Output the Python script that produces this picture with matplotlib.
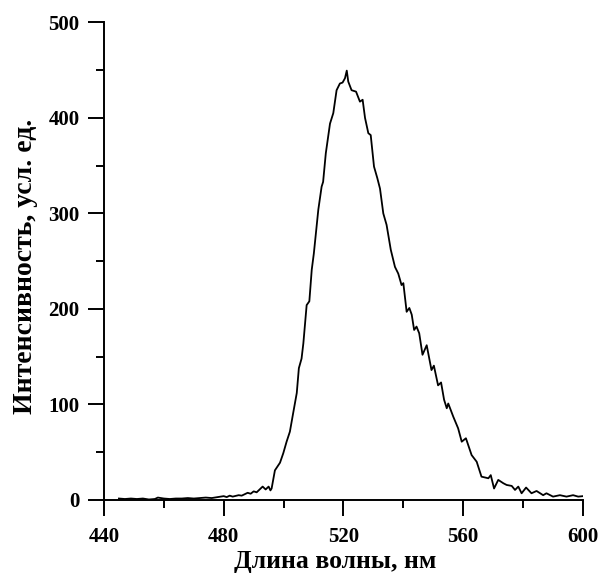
import matplotlib
matplotlib.use("Agg")
import matplotlib.pyplot as plt
from matplotlib.ticker import MultipleLocator

# spectrum: wavelength (nm) and intensity (arb. units)
wavelength = [
    445, 447, 449, 451, 453, 455, 457, 458, 460, 462, 464, 466, 468, 470,
    472, 474, 476, 478, 480, 481, 482, 483, 485, 486, 487, 488, 489, 490,
    491, 492, 493, 494, 495, 495.6, 496, 497.1, 498.8, 499.9, 501, 502.1,
    503.2, 504.4, 505.1, 506, 506.6, 507.7, 508.6, 509.4, 510.1, 511.6,
    512.7, 513.2, 514.1, 515.5, 516.6, 517.7, 518.8, 519.7, 520.5, 521.1,
    521.6, 522.7, 524.2, 525.5, 526.4, 527.2, 528.3, 529.1, 530.2, 531.3,
    532.2, 533.3, 534.4, 535.8, 537.2, 538.3, 539.4, 540, 541.1, 542,
    542.8, 543.6, 544.4, 545.3, 546.4, 547.8, 549.4, 550.2, 551.6, 552.6,
    553.6, 554.5, 555, 556.7, 558.3, 559.5, 560.9, 562.8, 564.5, 566.1,
    568.4, 569.2, 570.3, 571.7, 573.4, 574.5, 576.2, 577.3, 578.4, 579.5,
    581, 582.8, 584.5, 586.7, 587.8, 590, 592.3, 594.5, 596.7, 598.4, 600,
]
intensity = [
    1.5, 1, 1.5, 1, 1.5, 0.5, 1, 2.5, 1.5, 1, 1.5, 1.5, 2, 1.5,
    2, 2.5, 2, 3, 4, 3, 4.5, 3.5, 5, 4.5, 6, 7.5, 6.5, 9,
    8, 11, 14, 11, 14, 10, 12, 31, 39, 49, 61, 71.5,
    91, 112, 138, 148, 164, 204, 208, 241, 258, 304,
    328, 333, 363, 394, 405, 429, 436, 437, 441.5, 449.5,
    438, 429, 427.5, 417, 419, 400, 384, 382, 349, 337,
    326, 300, 288, 262, 244, 237, 225, 227, 197, 201,
    194, 178, 181.5, 174.5, 152, 162, 136, 140.6, 120, 123,
    105, 96, 101, 87, 75, 61, 64.6, 47, 40, 24.4,
    22.7, 26, 12, 21, 17.5, 15.7, 14.7, 10.5, 14, 7,
    13, 7, 9.4, 5, 7, 3.5, 5, 3.5, 5, 3.5, 4,
]

plt.rcParams['font.family'] = ['Liberation Serif', 'DejaVu Serif']
plt.rcParams['font.weight'] = 'bold'

fig = plt.figure(figsize=(6.01, 5.74), dpi=100)
ax = fig.add_axes([0.173, 0.129, 0.797, 0.832])

ax.plot(wavelength, intensity, color="black", linewidth=1.3)

ax.set_xlim(440, 600)
ax.set_ylim(0, 500)
ax.xaxis.set_major_locator(MultipleLocator(40))
ax.xaxis.set_minor_locator(MultipleLocator(20))
ax.yaxis.set_major_locator(MultipleLocator(100))
ax.yaxis.set_minor_locator(MultipleLocator(50))

for side in ("top", "right"):
    ax.spines[side].set_visible(False)
for side in ("left", "bottom"):
    ax.spines[side].set_linewidth(1.4)

ax.tick_params(which="major", direction="out", length=11.5, width=1.4,
               labelsize=15, pad=6)
ax.tick_params(which="minor", direction="out", length=6, width=1.4)
ax.tick_params(axis="x", which="major", pad=8)

# labels placed in figure coordinates to match the reference
ax.set_xlabel("Длина волны, нм", fontsize=18.5, fontweight="bold",
              va="baseline")
ax.xaxis.set_label_coords(0.557, 0.011, transform=fig.transFigure)
ax.set_ylabel("Интенсивность, усл. ед.", fontsize=20, fontweight="bold",
              va="center")
ax.yaxis.set_label_coords(0.043, 0.536, transform=fig.transFigure)

fig.savefig("out.png", dpi=100)
